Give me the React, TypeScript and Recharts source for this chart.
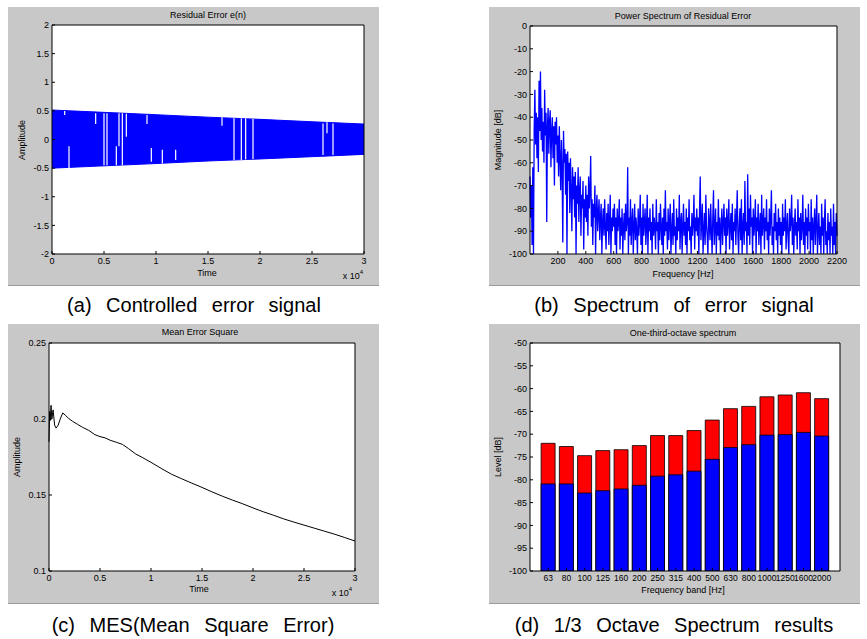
import React from 'react';
import {
  ComposedChart,
  LineChart,
  BarChart,
  Line,
  Area,
  Bar,
  XAxis,
  YAxis,
  CartesianGrid,
  ReferenceLine,
} from 'recharts';

const FONT = '"Liberation Sans", Arial, Helvetica, sans-serif';
const GRAY = '#c8c8c8';
const BLUE = '#0000ff';
const RED = '#ff0000';

// (a) residual error: envelope of the dense signal, plus the white gaps
const envTime = [0, 5000, 10000, 15000, 20000, 25000, 30000];
const envUpper = [0.515, 0.474, 0.433, 0.39, 0.352, 0.31, 0.27];
const envLower = [-0.5, -0.46, -0.42, -0.375, -0.34, -0.3, -0.26];
const gapTime = [1218, 1635, 4199, 5000, 5288, 6186, 6442, 6763, 7147, 9135, 9551, 10609, 11891, 16346, 17500, 18205, 18622, 19327, 26058, 26442, 27019];
const gapLow = [0.43, -0.5, 0.27, -0.45, -0.45, -0.45, -0.12, -0.45, 0.05, 0.27, -0.39, -0.42, -0.36, 0.24, -0.36, -0.36, -0.35, -0.34, -0.27, 0.11, -0.27];
const gapHigh = [0.5, -0.12, 0.46, 0.46, 0.46, -0.12, 0.46, 0.46, 0.45, 0.43, -0.15, -0.18, -0.18, 0.39, 0.37, 0.37, 0.37, 0.36, 0.28, 0.3, 0.28];
const timeTicks = [0, 5000, 10000, 15000, 20000, 25000, 30000];
const ampTicks = [-2, -1.5, -1, -0.5, 0, 0.5, 1, 1.5, 2];

// (b) power spectrum, one value every 5 Hz from 0 to 2200 Hz
const specStep = 5;
const specMag = [
  -66, -84, -70, -96, -62, -100, -45, -28, -52, -38, -58, -40, -64, -24, -46, -20, -50, -36, -55, -42,
  -60, -28, -48, -38, -86, -44, -36, -56, -42, -37, -62, -46, -40, -58, -44, -70, -42, -52, -40, -60,
  -48, -66, -44, -58, -72, -50, -62, -95, -46, -60, -54, -74, -56, -100, -55, -68, -60, -82, -58, -72,
  -90, -62, -76, -66, -84, -64, -100, -70, -78, -62, -86, -72, -66, -92, -74, -80, -68, -98, -76, -84,
  -70, -86, -74, -92, -66, -80, -72, -57, -88, -76, -96, -78, -84, -70, -100, -80, -74, -90, -82, -76,
  -94, -84, -78, -100, -86, -80, -92, -76, -88, -98, -82, -90, -78, -96, -86, -74, -100, -84, -90, -80,
  -88, -78, -96, -84, -100, -80, -90, -86, -76, -98, -84, -92, -80, -100, -88, -82, -94, -78, -90, -86,
  -62, -100, -84, -92, -76, -96, -86, -80, -100, -88, -78, -94, -84, -90, -100, -80, -92, -86, -74, -96,
  -84, -100, -78, -92, -86, -80, -96, -88, -74, -100, -84, -90, -80, -94, -86, -100, -78, -92, -84, -88,
  -98, -76, -90, -86, -100, -82, -94, -78, -88, -96, -84, -100, -80, -92, -72, -90, -86, -98, -80, -94,
  -86, -78, -100, -90, -82, -96, -76, -92, -88, -100, -80, -94, -84, -90, -74, -98, -86, -82, -100, -88,
  -78, -92, -86, -96, -80, -100, -84, -90, -76, -94, -88, -100, -82, -92, -86, -74, -98, -84, -90, -80,
  -92, -84, -100, -80, -66, -94, -86, -78, -100, -90, -82, -96, -74, -88, -92, -100, -80, -86, -94, -78,
  -90, -100, -84, -72, -96, -88, -80, -100, -86, -92, -76, -94, -84, -100, -88, -80, -96, -86, -78, -92,
  -84, -100, -80, -92, -86, -76, -98, -88, -82, -94, -78, -100, -86, -90, -80, -96, -84, -72, -92, -100,
  -86, -80, -94, -76, -100, -88, -82, -96, -68, -90, -86, -100, -65, -92, -80, -96, -74, -88, -84, -100,
  -80, -92, -86, -76, -100, -84, -90, -78, -96, -88, -82, -100, -74, -92, -86, -80, -98, -84, -90, -76,
  -94, -86, -100, -80, -92, -84, -72, -96, -88, -100, -82, -90, -78, -94, -86, -100, -80, -92, -84, -96,
  -86, -100, -78, -92, -84, -90, -76, -98, -88, -82, -94, -100, -80, -90, -86, -74, -96, -84, -100, -88,
  -80, -92, -86, -98, -76, -90, -84, -100, -82, -94, -88, -74, -96, -86, -100, -80, -92, -84, -98, -78,
  -90, -86, -100, -76, -94, -84, -100, -88, -80, -96, -86, -74, -100, -90, -82, -96, -88, -100, -78, -92,
  -84, -100, -86, -76, -96, -90, -100, -82, -94, -86, -100, -80, -92, -88, -100, -78, -96, -86, -100, -82,
  -92,
];
const freqTicks = [200, 400, 600, 800, 1000, 1200, 1400, 1600, 1800, 2000, 2200];
const magTicks = [-100, -90, -80, -70, -60, -50, -40, -30, -20, -10, 0];

// (c) mean error square
const mseTime = [0, 60, 120, 200, 280, 400, 550, 700, 900, 1100, 1350, 1600, 1900, 2300, 2800, 3300, 3900, 4500, 5000, 5500, 6000, 6600, 7200, 7800, 8500, 9200, 10000, 11000, 12000, 13000, 14000, 15000, 16000, 17000, 18000, 19000, 20000, 21000, 22000, 23000, 24000, 25000, 26000, 27000, 28000, 29000, 30000];
const mseValue = [0.185, 0.205, 0.199, 0.209, 0.2, 0.206, 0.196, 0.194, 0.196, 0.2, 0.204, 0.2025, 0.2005, 0.1985, 0.1965, 0.1945, 0.1925, 0.1897, 0.1884, 0.1876, 0.186, 0.1847, 0.1833, 0.1805, 0.177, 0.1745, 0.1715, 0.1675, 0.1637, 0.1607, 0.1578, 0.155, 0.152, 0.1492, 0.1466, 0.1442, 0.1415, 0.139, 0.1367, 0.1343, 0.1322, 0.1302, 0.1282, 0.1262, 0.1242, 0.122, 0.1197];
const mseTicks = [0.1, 0.15, 0.2, 0.25];

// (d) one-third-octave bands
const bandLabels = ['63', '80', '100', '125', '160', '200', '250', '315', '400', '500', '630', '800', '1000', '1250', '1600', '2000'];
const levelRed = [-72.0, -72.7, -74.7, -73.6, -73.4, -72.5, -70.3, -70.3, -69.2, -66.9, -64.4, -63.9, -61.8, -61.4, -60.9, -62.2];
const levelBlue = [-80.9, -80.9, -82.9, -82.4, -82.0, -81.2, -79.2, -78.9, -78.1, -75.5, -72.9, -72.3, -70.2, -70.1, -69.6, -70.4];
const levelTicks = [-100, -95, -90, -85, -80, -75, -70, -65, -60, -55, -50];
const bandPos = bandLabels.map((_, i) => i + 1);

const bandRows = envTime.map((t, i) => ({ t, band: [envLower[i], envUpper[i]] }));
const specRows = specMag.map((m, i) => ({ f: i * specStep, m }));
const mseRows = mseTime.map((t, i) => ({ t, v: mseValue[i] }));
const octRows = bandPos.map((p, i) => ({ p, red: [-100, levelRed[i]], blue: [-100, levelBlue[i]] }));

const tickStyle = { fontSize: 9, fill: '#000', fontFamily: FONT };
const black = { stroke: '#000' };
const fmtE4 = (v: number) => String(v / 10000);

// top and right axes close the box, with inward ticks and no labels
function frame(xDomain: number[], xTicks: number[], yDomain: number[], yTicks: number[]) {
  return [
    <XAxis key="fx" xAxisId="top" orientation="top" type="number" domain={xDomain} ticks={xTicks} interval={0}
      height={1} tick={false} tickSize={-3} axisLine={black} tickLine={black} allowDataOverflow />,
    <YAxis key="fy" yAxisId="right" orientation="right" type="number" domain={yDomain} ticks={yTicks} interval={0}
      width={1} tick={false} tickSize={-3} axisLine={black} tickLine={black} allowDataOverflow />,
  ];
}

function Txt({ x, y, size = 9, rotate = 0, children }: any) {
  return (
    <div
      style={{
        position: 'absolute', left: x, top: y, transform: `translate(-50%, -50%) rotate(${rotate}deg)`,
        fontSize: size, fontFamily: FONT, whiteSpace: 'nowrap', lineHeight: 1, color: '#000',
      }}
    >
      {children}
    </div>
  );
}

function Caption({ x, y, children }: any) {
  return (
    <div
      style={{
        position: 'absolute', left: x, top: y, transform: 'translate(-50%, -50%)', fontSize: 20,
        fontFamily: FONT, whiteSpace: 'nowrap', lineHeight: 1, color: '#000', wordSpacing: 9,
      }}
    >
      {children}
    </div>
  );
}

function Box({ left, top, width, height, children }: any) {
  return (
    <div style={{ position: 'absolute', left, top, width, height, background: GRAY, borderBottom: '1px solid #9a9a9a' }}>
      {children}
    </div>
  );
}

const Exp = () => (
  <span>
    x 10<sup style={{ fontSize: 6, verticalAlign: 'top', position: 'relative', top: -3 }}>4</sup>
  </span>
);

export default function App() {
  return (
    <div style={{ position: 'absolute', left: 0, top: 0, width: 867, height: 639, background: '#fff', overflow: 'hidden' }}>
      {/* (a) */}
      <Box left={8} top={7} width={371} height={278}>
        <ComposedChart width={371} height={278} data={bandRows} margin={{ top: 17, right: 14, bottom: 30, left: 43 }}>
          <CartesianGrid fill="#fff" horizontal={false} vertical={false} />
          <XAxis dataKey="t" type="number" domain={[0, 30000]} ticks={timeTicks} interval={0} tickFormatter={fmtE4}
            height={1} tickSize={-3} tickMargin={7} tick={tickStyle} axisLine={black} tickLine={black} />
          <YAxis type="number" domain={[-2, 2]} ticks={ampTicks} interval={0} width={1} tickSize={-3} tickMargin={6}
            tick={tickStyle} axisLine={black} tickLine={black} />
          {frame([0, 30000], timeTicks, [-2, 2], ampTicks)}
          <Area type="linear" dataKey="band" stroke={BLUE} fill={BLUE} fillOpacity={1} strokeWidth={1} isAnimationActive={false} />
          {gapTime.map((t, i) => (
            <ReferenceLine key={i} segment={[{ x: t, y: gapLow[i] }, { x: t, y: gapHigh[i] }]} stroke="#fff" strokeWidth={1.2} />
          ))}
        </ComposedChart>
      </Box>
      <Txt x={208} y={15}>Residual Error e(n)</Txt>
      <Txt x={207} y={273}>Time</Txt>
      <Txt x={22} y={140} rotate={-90}>Amplitude</Txt>
      <Txt x={353} y={276}><Exp /></Txt>
      <Caption x={194} y={305}>(a) Controlled error signal</Caption>

      {/* (b) */}
      <Box left={489} top={7} width={371} height={278}>
        <LineChart width={371} height={278} data={specRows} margin={{ top: 18, right: 22, bottom: 30, left: 40 }}>
          <CartesianGrid fill="#fff" horizontal={false} vertical={false} />
          <XAxis dataKey="f" type="number" domain={[0, 2200]} ticks={freqTicks} interval={0}
            height={1} tickSize={-3} tickMargin={7} tick={tickStyle} axisLine={black} tickLine={black} />
          <YAxis type="number" domain={[-100, 0]} ticks={magTicks} interval={0} width={1} tickSize={-3} tickMargin={6}
            tick={tickStyle} axisLine={black} tickLine={black} />
          {frame([0, 2200], freqTicks, [-100, 0], magTicks)}
          <Line type="linear" dataKey="m" stroke={BLUE} strokeWidth={1.3} dot={false} isAnimationActive={false} />
        </LineChart>
      </Box>
      <Txt x={683} y={16}>Power Spectrum of Residual Error</Txt>
      <Txt x={683} y={274}>Frequency [Hz]</Txt>
      <Txt x={498} y={140} rotate={-90}>Magnitude [dB]</Txt>
      <Caption x={674} y={305}>(b) Spectrum of error signal</Caption>

      {/* (c) */}
      <Box left={8} top={324} width={371} height={279}>
        <LineChart width={371} height={279} data={mseRows} margin={{ top: 18, right: 23, bottom: 31, left: 40 }}>
          <CartesianGrid fill="#fff" horizontal={false} vertical={false} />
          <XAxis dataKey="t" type="number" domain={[0, 30000]} ticks={timeTicks} interval={0} tickFormatter={fmtE4}
            height={1} tickSize={-3} tickMargin={7} tick={tickStyle} axisLine={black} tickLine={black} />
          <YAxis type="number" domain={[0.1, 0.25]} ticks={mseTicks} interval={0} width={1} tickSize={-3} tickMargin={6}
            tick={tickStyle} axisLine={black} tickLine={black} />
          {frame([0, 30000], timeTicks, [0.1, 0.25], mseTicks)}
          <Line type="linear" dataKey="v" stroke="#000" strokeWidth={1} dot={false} isAnimationActive={false} />
        </LineChart>
      </Box>
      <Txt x={200} y={332}>Mean Error Square</Txt>
      <Txt x={199} y={589}>Time</Txt>
      <Txt x={17} y={457} rotate={-90}>Amplitude</Txt>
      <Txt x={342} y={593}><Exp /></Txt>
      <Caption x={193} y={625}>(c) MES(Mean Square Error)</Caption>

      {/* (d) */}
      <Box left={489} top={324} width={371} height={279}>
        <BarChart width={371} height={279} data={octRows} margin={{ top: 18, right: 19, bottom: 31, left: 40 }}>
          <CartesianGrid fill="#fff" horizontal={false} vertical={false} />
          <XAxis dataKey="p" type="number" domain={[0, 17]} ticks={bandPos} interval={0}
            tickFormatter={(v: number) => bandLabels[v - 1]}
            height={1} tickSize={-3} tickMargin={7} tick={{ ...tickStyle, fontSize: 8.5 }} axisLine={black} tickLine={black} />
          <XAxis xAxisId="b" dataKey="p" type="number" domain={[0, 17]} hide />
          <YAxis type="number" domain={[-100, -50]} ticks={levelTicks} interval={0} width={1} tickSize={-3} tickMargin={6}
            tick={tickStyle} axisLine={black} tickLine={black} allowDataOverflow />
          {frame([0, 17], bandPos, [-100, -50], levelTicks)}
          <Bar dataKey="red" fill={RED} stroke="#000" strokeWidth={0.8} barSize={14} isAnimationActive={false} />
          <Bar xAxisId="b" dataKey="blue" fill={BLUE} stroke="#000" strokeWidth={0.8} barSize={14} isAnimationActive={false} />
        </BarChart>
      </Box>
      <Txt x={683} y={333}>One-third-octave spectrum</Txt>
      <Txt x={683} y={590}>Frequency band [Hz]</Txt>
      <Txt x={498} y={457} rotate={-90}>Level [dB]</Txt>
      <Caption x={674} y={625}>(d) 1/3 Octave Spectrum results</Caption>
    </div>
  );
}
